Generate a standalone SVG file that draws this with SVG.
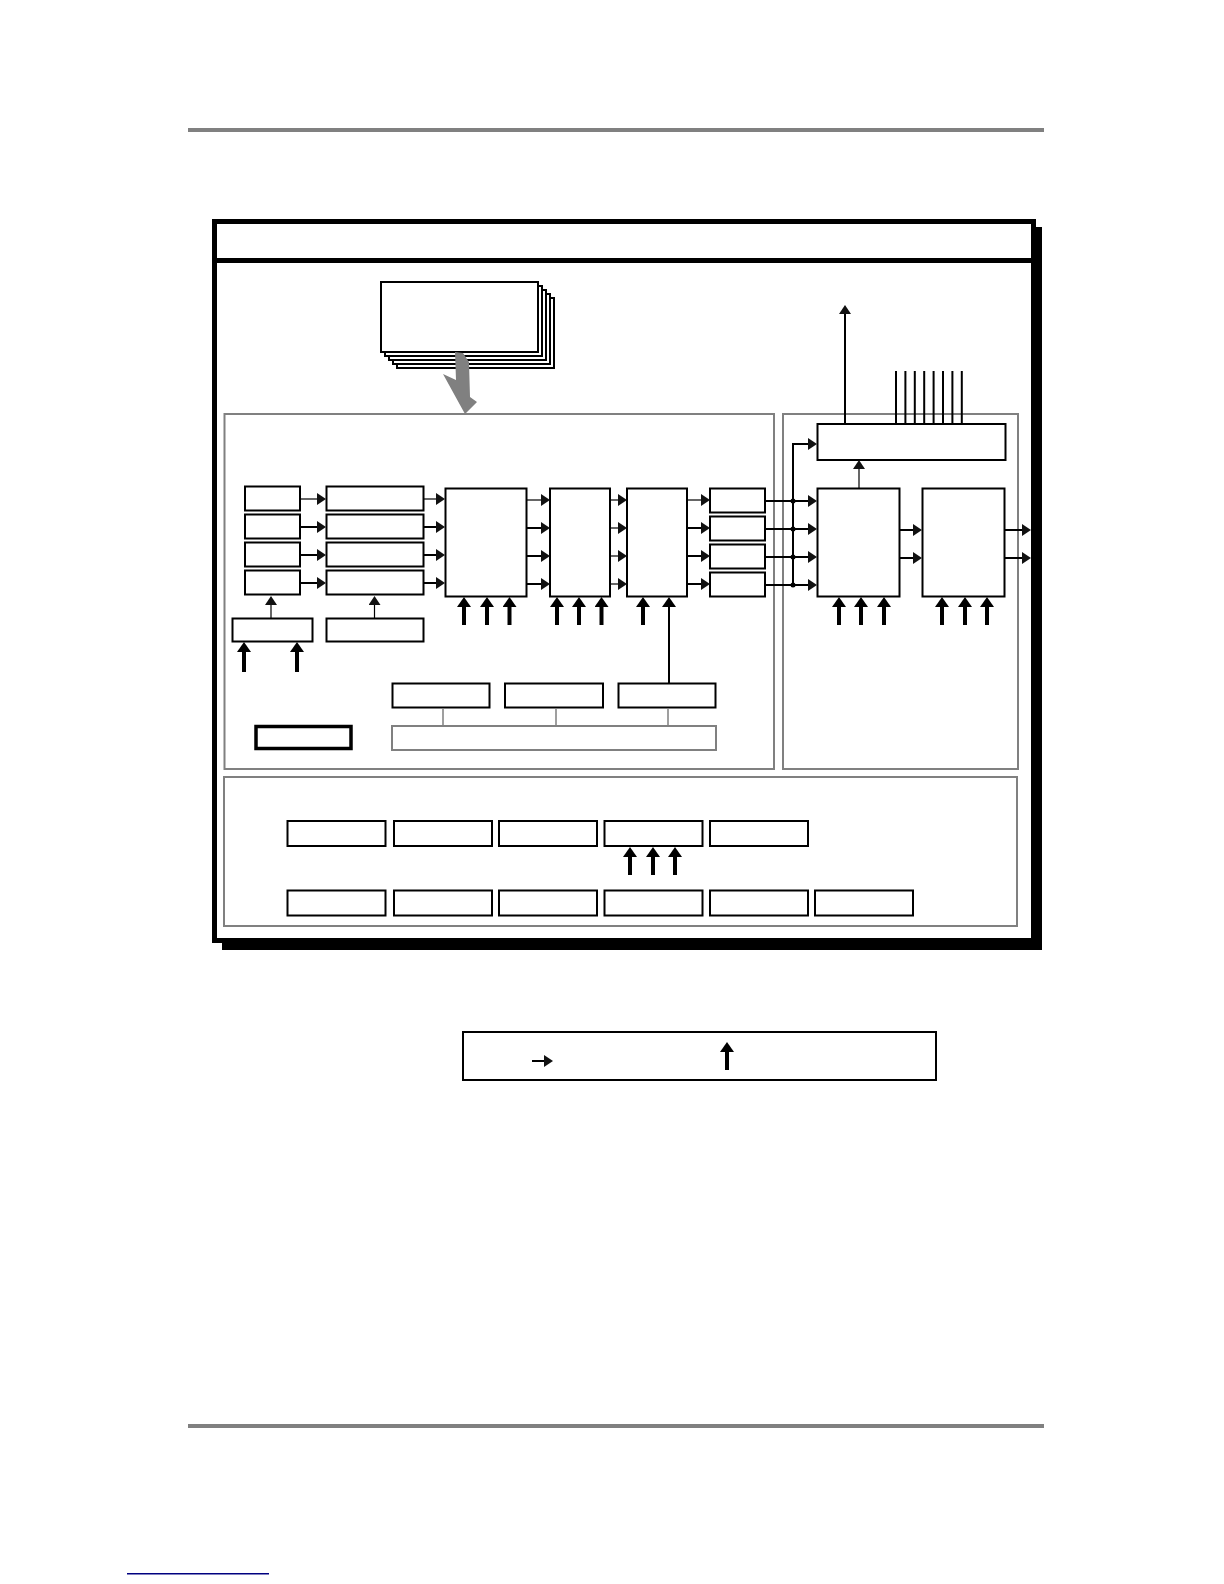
<svg xmlns="http://www.w3.org/2000/svg" width="1224" height="1584" viewBox="0 0 1224 1584">
<style>
.bx{fill:#fff;stroke:#000;stroke-width:2}
.pn{fill:none;stroke:#808080;stroke-width:2}
.gl{fill:none;stroke:#808080;stroke-width:1.5}
.th{fill:none;stroke:#000;stroke-width:2}
.hl{fill:none;stroke:#000;stroke-width:1.2}
.bd{fill:none;stroke:#000;stroke-width:4}
.sh{fill:#fff;stroke:#000;stroke-width:2}
</style>
<defs>
<marker id="ah" markerUnits="userSpaceOnUse" markerWidth="9" markerHeight="12" viewBox="0 0 9 12" refX="2" refY="6" orient="auto"><path d="M0,0 L9,6 L0,12 z" fill="#111"/></marker>
<marker id="bh" markerUnits="userSpaceOnUse" markerWidth="10" markerHeight="14" viewBox="0 0 10 14" refX="3" refY="7" orient="auto"><path d="M0,0 L10,7 L0,14 z" fill="#000"/></marker>
</defs>

<g id="page-rules">
<rect x="188" y="128" width="856" height="4" fill="#808080"/>
<rect x="188" y="1424" width="856" height="4" fill="#808080"/>
<rect x="127" y="1573" width="142" height="1.5" fill="#000080"/>
</g>

<g id="frame">
<rect x="222" y="227" width="820" height="723" fill="#000"/>
<rect x="214.5" y="221.5" width="819" height="719" fill="#fff" stroke="#000" stroke-width="5"/>
<line x1="212" y1="260.5" x2="1036" y2="260.5" stroke="#000" stroke-width="5"/>
</g>

<g id="panels">
<rect id="panel-left" class="pn" x="224.5" y="414" width="549.5" height="355"/>
<rect id="panel-right" class="pn" x="783" y="414" width="235" height="355"/>
<rect id="panel-bottom" class="pn" x="224" y="777" width="793" height="149"/>
</g>

<g id="sheet-stack">
<rect class="sh" x="397" y="298" width="157" height="70"/>
<rect class="sh" x="393" y="294" width="157" height="70"/>
<rect class="sh" x="389" y="290" width="157" height="70"/>
<rect class="sh" x="385" y="286" width="157" height="70"/>
<rect class="sh" x="381" y="282" width="157" height="70"/>
</g>
<g id="fat-arrow">
<polygon points="455,352 463,353 469,362 470,397 477,402 465,414 443,374 456,380" fill="#808080"/>
</g>

<g id="col1">
<rect class="bx" x="245" y="486.5" width="55" height="24"/>
<rect class="bx" x="245" y="514.5" width="55" height="24"/>
<rect class="bx" x="245" y="542.5" width="55" height="24"/>
<rect class="bx" x="245" y="570.5" width="55" height="24"/>
</g>
<g id="col2">
<rect class="bx" x="326.5" y="486.5" width="97" height="24"/>
<rect class="bx" x="326.5" y="514.5" width="97" height="24"/>
<rect class="bx" x="326.5" y="542.5" width="97" height="24"/>
<rect class="bx" x="326.5" y="570.5" width="97" height="24"/>
</g>
<g id="col1-ctrl"><rect class="bx" x="232.5" y="618.5" width="80" height="23"/></g>
<g id="col2-ctrl"><rect class="bx" x="326.5" y="618.5" width="97" height="23"/></g>
<g id="col3"><rect class="bx" x="445.5" y="488.5" width="81" height="108"/></g>
<g id="col4"><rect class="bx" x="550" y="488.5" width="60" height="108"/></g>
<g id="col5"><rect class="bx" x="627" y="488.5" width="60" height="108"/></g>
<g id="col6">
<rect class="bx" x="710" y="488.5" width="55" height="24"/>
<rect class="bx" x="710" y="516.5" width="55" height="24"/>
<rect class="bx" x="710" y="544.5" width="55" height="24"/>
<rect class="bx" x="710" y="572.5" width="55" height="24"/>
</g>
<g id="thick-box"><rect x="256" y="726.5" width="95" height="22" fill="#fff" stroke="#000" stroke-width="3.5"/></g>
<g id="box-a"><rect class="bx" x="392.5" y="683.5" width="97" height="24"/></g>
<g id="box-b"><rect class="bx" x="505" y="683.5" width="98" height="24"/></g>
<g id="box-c"><rect class="bx" x="618.5" y="683.5" width="97" height="24"/></g>
<g id="bus"><rect class="pn" x="392" y="726" width="324" height="24"/></g>

<g id="col7"><rect class="bx" x="817.5" y="488.5" width="82" height="108"/></g>
<g id="col8"><rect class="bx" x="922.5" y="488.5" width="82" height="108"/></g>
<g id="top-box"><rect class="bx" x="817.5" y="424" width="188" height="36"/></g>

<g id="bottom-row1">
<rect class="bx" x="287.5" y="821" width="98" height="25"/>
<rect class="bx" x="394" y="821" width="98" height="25"/>
<rect class="bx" x="499" y="821" width="98" height="25"/>
<rect class="bx" x="604.5" y="821" width="98" height="25"/>
<rect class="bx" x="710" y="821" width="98" height="25"/>
</g>
<g id="bottom-row2">
<rect class="bx" x="287.5" y="890.5" width="98" height="25"/>
<rect class="bx" x="394" y="890.5" width="98" height="25"/>
<rect class="bx" x="499" y="890.5" width="98" height="25"/>
<rect class="bx" x="604.5" y="890.5" width="98" height="25"/>
<rect class="bx" x="710" y="890.5" width="98" height="25"/>
<rect class="bx" x="815" y="890.5" width="98" height="25"/>
</g>

<g id="legend">
<rect class="bx" x="463" y="1032" width="473" height="48"/>
</g>

<g id="connectors">
<path class="hl" d="M300,499H319" marker-end="url(#ah)"/>
<path class="th" d="M300,527H319" marker-end="url(#ah)"/>
<path class="th" d="M300,555H319" marker-end="url(#ah)"/>
<path class="th" d="M300,583H319" marker-end="url(#ah)"/>
<path class="hl" d="M424,499H438" marker-end="url(#ah)"/>
<path class="th" d="M424,527H438" marker-end="url(#ah)"/>
<path class="th" d="M424,555H438" marker-end="url(#ah)"/>
<path class="th" d="M424,583H438" marker-end="url(#ah)"/>
<path class="hl" d="M527,500H543" marker-end="url(#ah)"/>
<path class="th" d="M527,528H543" marker-end="url(#ah)"/>
<path class="th" d="M527,556H543" marker-end="url(#ah)"/>
<path class="th" d="M527,584H543" marker-end="url(#ah)"/>
<path class="hl" d="M611,500H620" marker-end="url(#ah)"/>
<path class="hl" d="M611,528H620" marker-end="url(#ah)"/>
<path class="hl" d="M611,556H620" marker-end="url(#ah)"/>
<path class="hl" d="M611,584H620" marker-end="url(#ah)"/>
<path class="hl" d="M687,500H703" marker-end="url(#ah)"/>
<path class="th" d="M687,528H703" marker-end="url(#ah)"/>
<path class="th" d="M687,556H703" marker-end="url(#ah)"/>
<path class="th" d="M687,584H703" marker-end="url(#ah)"/>
<path class="th" d="M765,501H810" marker-end="url(#ah)"/>
<path class="th" d="M765,529H810" marker-end="url(#ah)"/>
<path class="th" d="M765,557H810" marker-end="url(#ah)"/>
<path class="th" d="M765,585H810" marker-end="url(#ah)"/>
<path class="th" d="M793,585V444H810" marker-end="url(#ah)"/>
<circle cx="793" cy="501" r="2.5" fill="#000"/>
<circle cx="793" cy="529" r="2.5" fill="#000"/>
<circle cx="793" cy="557" r="2.5" fill="#000"/>
<circle cx="793" cy="585" r="2.5" fill="#000"/>
<path class="th" d="M900,530H915" marker-end="url(#ah)"/>
<path class="th" d="M900,558H915" marker-end="url(#ah)"/>
<path class="th" d="M1005,530H1024" marker-end="url(#ah)"/>
<path class="th" d="M1005,558H1024" marker-end="url(#ah)"/>
<path class="hl" d="M859,488V467" marker-end="url(#ah)"/>
<path class="th" d="M845,423V312" marker-end="url(#ah)"/>
<path class="th" d="M896,371V424M905.4,371V424M914.8,371V424M924.2,371V424M933.6,371V424M943,371V424M952.4,371V424M961.8,371V424"/>
<path class="hl" d="M271,618V603" marker-end="url(#ah)"/>
<path class="hl" d="M374.5,618V603" marker-end="url(#ah)"/>
<path class="gl" d="M443,708V726M556,708V726M668,708V726"/>
<path class="bd" d="M244,672V649" marker-end="url(#bh)"/>
<path class="bd" d="M297,672V649" marker-end="url(#bh)"/>
<path class="bd" d="M464,625V604" marker-end="url(#bh)"/>
<path class="bd" d="M487,625V604" marker-end="url(#bh)"/>
<path class="bd" d="M509.5,625V604" marker-end="url(#bh)"/>
<path class="bd" d="M557,625V604" marker-end="url(#bh)"/>
<path class="bd" d="M579,625V604" marker-end="url(#bh)"/>
<path class="bd" d="M601.5,625V604" marker-end="url(#bh)"/>
<path class="bd" d="M643,625V604" marker-end="url(#bh)"/>
<path class="th" d="M669,683V604" stroke-width="3" marker-end="url(#bh)"/>
<path class="bd" d="M839,625V604" marker-end="url(#bh)"/>
<path class="bd" d="M861,625V604" marker-end="url(#bh)"/>
<path class="bd" d="M884,625V604" marker-end="url(#bh)"/>
<path class="bd" d="M942,625V604" marker-end="url(#bh)"/>
<path class="bd" d="M965,625V604" marker-end="url(#bh)"/>
<path class="bd" d="M987,625V604" marker-end="url(#bh)"/>
<path class="bd" d="M630,875V854" marker-end="url(#bh)"/>
<path class="bd" d="M653,875V854" marker-end="url(#bh)"/>
<path class="bd" d="M675,875V854" marker-end="url(#bh)"/>
<path class="th" d="M532,1061H546" marker-end="url(#ah)"/>
<path class="bd" d="M727,1070V1049" marker-end="url(#bh)"/>
</g>
</svg>
